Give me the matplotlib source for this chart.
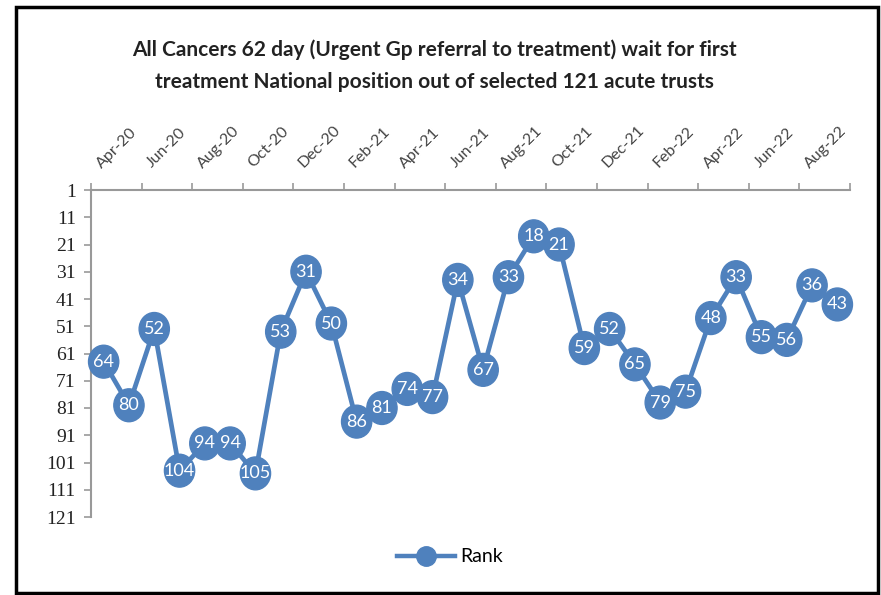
import matplotlib
matplotlib.use("Agg")
import matplotlib.pyplot as plt
from matplotlib.lines import Line2D
from matplotlib.patches import Rectangle

months = ["Apr-20","May-20","Jun-20","Jul-20","Aug-20","Sep-20","Oct-20","Nov-20","Dec-20",
          "Jan-21","Feb-21","Mar-21","Apr-21","May-21","Jun-21","Jul-21","Aug-21","Sep-21",
          "Oct-21","Nov-21","Dec-21","Jan-22","Feb-22","Mar-22","Apr-22","May-22","Jun-22",
          "Jul-22","Aug-22","Sep-22"]
rank = [64, 80, 52, 104, 94, 94, 105, 53, 31, 50, 86, 81, 74, 77, 34, 67, 33, 18, 21,
        59, 52, 65, 79, 75, 48, 33, 55, 56, 36, 43]
y_ticks = [1, 11, 21, 31, 41, 51, 61, 71, 81, 91, 101, 111, 121]
title = ("All Cancers 62 day (Urgent Gp referral to treatment) wait for first\n"
         "treatment National position out of selected 121 acute trusts")
series_name = "Rank"

color = "#4f81bd"
W, H = 881, 595
fig = plt.figure(figsize=(W/100, H/100), dpi=100)
ax = fig.add_axes([91/W, 1-517/H, (850-91)/W, (517-190)/H])

x = list(range(len(rank)))
ax.plot(x, rank, color=color, lw=3.4, zorder=2, clip_on=False)
ax.scatter(x, rank, s=[560]*len(rank), marker=(
    __import__("matplotlib.path", fromlist=["Path"]).Path.unit_circle().transformed(
        __import__("matplotlib.transforms", fromlist=["Affine2D"]).Affine2D().scale(0.92, 1.0))),
    color=color, edgecolors=color, zorder=3, clip_on=False)
for xi, v in zip(x, rank):
    ax.text(xi, v, str(v), color="white", ha="center", va="center",
            fontsize=13, family="Lato", zorder=4)

ax.set_xlim(-0.5, len(rank)-0.5)
ax.set_ylim(121, 1)
ax.set_yticks(y_ticks)
ax.set_yticklabels([str(t) for t in y_ticks], family="Liberation Serif", fontsize=14, color="#222222")

ax.xaxis.tick_top()
ax.set_xticks(x[::2])
ax.set_xticklabels(months[::2], rotation=45, ha="left", va="bottom",
                   rotation_mode="anchor", family="Lato", fontsize=11.5, color="#444444")
ax.tick_params(axis="x", which="major", length=0, pad=14)
ax.set_xticks([i - 0.5 for i in range(0, len(rank)+1, 2)], minor=True)
ax.tick_params(axis="x", which="minor", length=5, color="#999999", width=1.2, top=True, bottom=False)
ax.tick_params(axis="y", length=5, color="#999999", width=1.2, pad=6)

for s in ["right", "bottom"]:
    ax.spines[s].set_visible(False)
for s in ["left", "top"]:
    ax.spines[s].set_color("#999999")
    ax.spines[s].set_linewidth(1.5)

fig.text(434/W, 1-66/H, title, ha="center", va="center", fontsize=15,
         family="Lato", weight="bold", linespacing=1.75, color="#222222")

handle = Line2D([0], [0], color=color, lw=3.2, marker="o", markersize=14,
                markerfacecolor=color, markeredgecolor=color)
fig.legend([handle], [series_name], loc="center", bbox_to_anchor=(450/W, 1-557/H),
           frameon=False, prop={"family": "Lato", "size": 14}, handlelength=3,
           handletextpad=0.3)

fig.patches.append(Rectangle((16/W, 2/H), (878-16)/W, (588-2)/H, transform=fig.transFigure,
                             fill=False, edgecolor="black", lw=2.5))

fig.savefig("out.png", dpi=100, facecolor="white")
